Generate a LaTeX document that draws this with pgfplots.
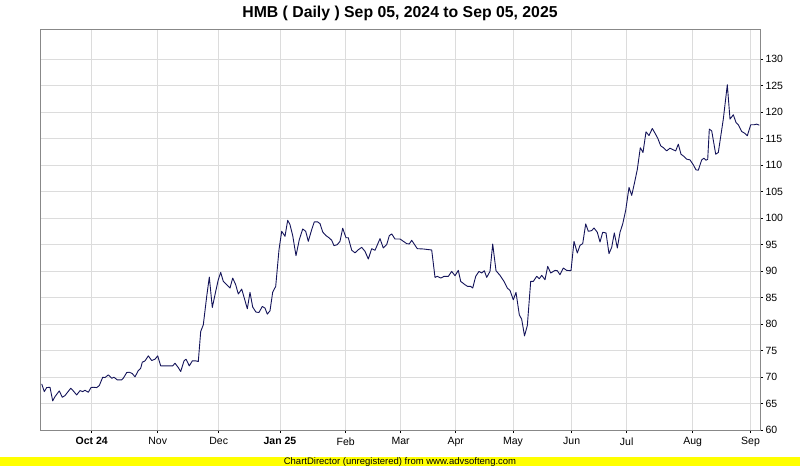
\documentclass[border=0pt]{standalone}
\usepackage{fontspec}
\setmainfont{Liberation Sans}
\usepackage{pgfplots}
\pgfplotsset{compat=1.18}
\definecolor{linecol}{RGB}{20,20,90}
\definecolor{gridcol}{RGB}{220,220,220}
\definecolor{bordercol}{RGB}{136,136,136}
\definecolor{cdyellow}{RGB}{255,255,0}
\begin{document}
\begin{tikzpicture}[x=1pt,y=1pt]
\path[use as bounding box] (0,0) rectangle (800,466);
\fill[white] (0,0) rectangle (800,466);
\fill[cdyellow] (0,0) rectangle (800,9);
\node[inner sep=0pt] at (400,4.3) {\fontsize{9.5}{10}\selectfont ChartDirector (unregistered) from www.advsofteng.com};
\node[inner sep=0pt,anchor=base] at (400,448.8) {\fontsize{15.8}{18}\selectfont\bfseries HMB ( Daily ) Sep 05, 2024 to Sep 05, 2025};
\begin{axis}[
  at={(40.7pt,36pt)}, anchor=south west,
  scale only axis, width=719.3pt, height=400pt,
  xmin=40.7, xmax=760, ymin=60, ymax=135.53,
  axis line style={bordercol, line width=1pt},
  grid=major, grid style={gridcol, line width=0.9pt},
  xtick={91.7,157.7,218.7,280,345.7,400.7,455.7,513,571.7,626.7,692.7,750.5},
  xticklabels={\textbf{Oct 24},Nov,Dec,\textbf{Jan 25},Feb,Mar,Apr,May,Jun,Jul,Aug,Sep},
  ytick={60,65,...,130},
  yticklabel pos=right,
  tick align=outside, major tick length=3pt,
  tick style={black, line width=0.8pt},
  xtick pos=bottom, ytick pos=right,
  /pgf/number format/assume math mode=true,
  tick label style={font=\fontsize{10.5}{12}\selectfont},
  xticklabel style={yshift=-1pt},
  yticklabel style={xshift=-1pt},
]
\addplot[linecol, line width=0.9pt, line join=round, mark=none] coordinates {
(41.7,68.70)(44.3,67.25)(46.7,68.01)(50.0,68.07)(52.7,65.49)(55.0,66.31)(59.3,67.38)(62.3,66.18)(65.0,66.50)(70.7,67.88)
(73.3,67.38)(76.7,66.62)(80.0,67.44)(82.7,67.25)(85.0,67.50)(88.3,67.13)(91.0,68.01)(93.3,68.07)(96.7,68.01)(99.3,68.39)
(102.7,69.96)(105.0,69.90)(108.3,70.40)(111.7,69.77)(114.0,69.96)(117.3,69.46)(121.7,69.46)(123.3,69.77)(126.7,70.85)(129.3,70.91)
(132.3,70.66)(135.0,70.03)(138.3,71.22)(140.7,71.67)(142.3,72.80)(145.0,73.05)(148.3,74.00)(151.7,73.12)(155.0,73.37)(157.7,74.00)
(160.7,72.11)(165.0,72.11)(172.7,72.11)(175.0,72.61)(178.3,71.79)(180.7,71.04)(184.0,73.05)(186.0,73.37)(189.3,72.11)(192.3,73.05)
(195.7,73.05)(198.3,72.93)(200.7,78.60)(203.3,79.86)(206.7,85.22)(209.3,88.88)(212.3,83.14)(215.7,86.17)(218.3,88.38)(220.7,89.76)
(223.3,88.06)(226.7,87.43)(230.0,86.80)(232.7,88.69)(235.7,87.43)(238.3,85.67)(241.7,86.61)(244.3,84.91)(247.3,82.89)(250.0,85.98)
(252.7,83.21)(256.0,82.26)(259.0,82.20)(262.3,83.33)(265.0,83.02)(267.3,81.88)(270.0,82.51)(272.7,86.04)(275.7,87.11)(279.0,94.05)
(281.7,97.52)(285.0,96.57)(287.7,99.60)(290.0,98.78)(292.7,96.70)(296.0,92.92)(299.3,95.94)(302.7,97.96)(305.7,97.52)(308.3,95.63)
(311.7,97.84)(314.3,99.29)(317.7,99.29)(320.0,98.97)(322.7,97.39)(326.0,96.70)(329.3,96.26)(331.7,95.82)(334.0,94.81)(337.3,95.00)
(340.0,95.63)(342.7,98.10)(346.0,96.30)(348.3,96.30)(351.7,93.95)(355.0,93.45)(358.0,94.00)(361.7,94.49)(365.0,93.74)(368.3,92.29)
(371.7,94.24)(375.0,93.93)(380.0,96.13)(383.3,94.37)(386.7,95.00)(389.3,96.70)(391.7,97.02)(395.0,96.07)(400.0,96.07)(406.7,95.19)
(409.3,95.13)(411.7,95.82)(417.3,94.24)(423.3,94.18)(431.7,93.99)(435.0,88.82)(437.3,89.01)(440.7,88.69)(444.0,89.01)(448.3,89.01)
(451.7,89.95)(455.0,89.13)(458.3,90.14)(460.7,88.06)(465.0,87.43)(467.7,87.11)(470.7,87.11)(472.7,86.80)(475.7,89.01)(479.0,89.95)
(481.7,89.64)(484.3,90.08)(486.7,88.82)(490.0,89.95)(492.7,95.13)(496.0,90.08)(500.0,89.20)(504.0,88.06)(507.3,86.80)(510.0,86.36)
(513.3,84.59)(516.0,85.98)(519.3,81.76)(521.7,80.90)(524.5,77.78)(527.3,79.70)(530.7,88.06)(533.3,88.06)(536.7,89.01)(539.3,88.57)
(541.7,89.20)(545.0,88.38)(547.7,90.90)(550.7,89.64)(555.0,90.14)(557.3,90.08)(560.0,89.32)(563.3,90.58)(566.7,90.14)(571.0,90.08)
(574.0,95.63)(577.3,93.42)(580.0,94.87)(582.7,95.19)(585.7,98.91)(588.3,97.52)(591.7,97.65)(594.0,98.15)(597.3,97.33)(600.0,95.50)
(602.7,97.33)(606.0,97.21)(609.0,93.30)(611.7,94.49)(614.3,97.21)(617.3,94.37)(620.0,97.33)(622.7,98.91)(625.7,101.49)(629.0,105.80)
(631.7,104.30)(634.3,106.50)(637.3,109.20)(640.3,113.30)(643.0,112.40)(646.0,116.30)(649.0,115.60)(652.3,116.93)(655.0,116.05)(657.7,115.11)
(660.7,113.66)(664.0,113.22)(666.7,112.71)(670.0,113.22)(673.3,112.90)(675.7,112.71)(678.3,113.97)(681.0,112.08)(684.0,111.64)(686.7,111.14)
(690.0,111.01)(693.3,110.07)(696.0,109.12)(698.3,109.06)(701.7,111.01)(704.0,111.33)(706.0,110.95)(707.7,111.10)(709.3,116.81)(711.7,116.49)
(715.7,112.08)(718.3,112.40)(723.3,118.70)(727.3,125.19)(730.0,118.70)(733.3,119.52)(736.0,118.07)(738.3,117.63)(741.7,116.37)(745.0,115.99)
(747.3,115.55)(750.7,117.63)(754.0,117.63)(756.7,117.75)(759.3,117.56)
};
\end{axis}
\end{tikzpicture}
\end{document}
